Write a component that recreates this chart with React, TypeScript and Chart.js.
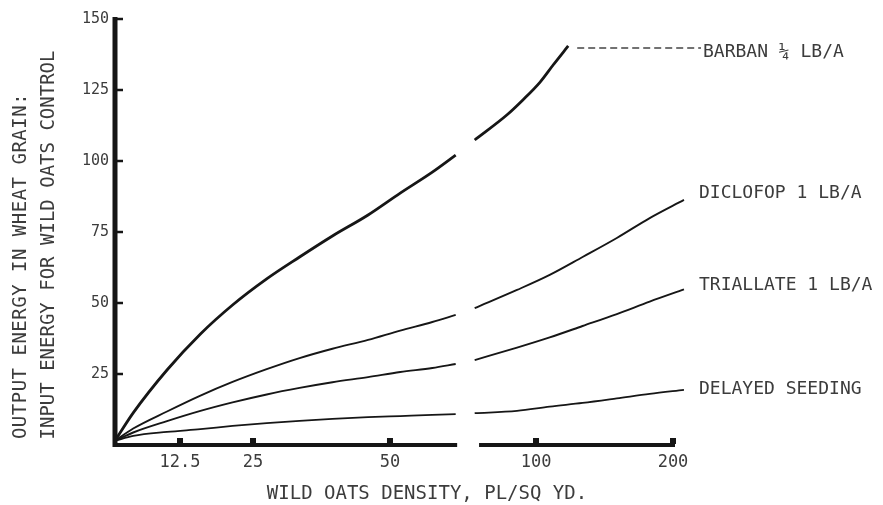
import React, { useEffect, useRef } from 'react';
import { Chart, LinearScale, registerables } from 'chart.js';

// ---- axis definitions ----
const X_TICKS = [12.5, 25, 50, 100, 200];
const X_KNOTS = [0, 12.5, 25, 50, 100, 200];
const X_KNOT_FRAC = [0, 0.1165, 0.2473, 0.4928, 0.7545, 1];
const Y_TICKS = [0, 25, 50, 75, 100, 125, 150];
const AXIS_BREAK = [73, 80.5];

// ---- data (density in plants / sq yd; ratio output:input energy) ----
const DENSITY_LOW = [0, 3.5, 10, 16, 21.5, 27.5, 33.5, 39.5, 46, 53.5, 64.5, 72.5];
const DENSITY_HIGH = [79, 93.5, 110, 134, 159, 183, 208];
const BARBAN_DENSITY_HIGH = [79, 90, 95.5, 103, 112.5, 123.5];

const BARBAN_LOW = [1.5, 11.3, 26.4, 39.1, 49.3, 58.5, 66.2, 73.6, 81.0, 88.7, 96.1, 102.1];
const BARBAN_HIGH = [107.4, 116.2, 121.5, 127.8, 133.8, 140.5];
const DICLOFOP_LOW = [1.5, 5.8, 11.8, 17.4, 22.2, 26.7, 30.6, 33.9, 37.0, 40.3, 43.3, 45.8];
const DICLOFOP_HIGH = [48.2, 54.6, 59.9, 66.2, 72.9, 79.9, 86.3];
const TRIALLATE_LOW = [1.5, 4.4, 8.4, 12.0, 15.0, 17.8, 20.1, 22.1, 23.9, 25.7, 27.1, 28.5];
const TRIALLATE_HIGH = [29.9, 34.3, 37.9, 41.9, 46.1, 50.5, 54.8];
const DELAYED_LOW = [1.5, 3.2, 4.6, 5.6, 6.7, 7.7, 8.5, 9.2, 9.8, 10.2, 10.6, 10.9];
const DELAYED_HIGH = [11.2, 12.0, 13.5, 14.8, 16.4, 18.0, 19.4];

const SERIES_NAMES = ['BARBAN \u00BC LB/A', 'DICLOFOP 1 LB/A', 'TRIALLATE 1 LB/A', 'DELAYED SEEDING'];

const Y_TITLE = ['OUTPUT ENERGY IN WHEAT GRAIN:', 'INPUT ENERGY FOR WILD OATS CONTROL'];
const X_TITLE = 'WILD OATS DENSITY, PL/SQ YD.';

const INK = '#161616';
const TEXT = '#3c3c3c';
const MONO = '"DejaVu Sans Mono", "Liberation Mono", monospace';

function toFrac(v: number): number {
  const n = X_KNOTS.length;
  for (let i = 1; i < n; i++) {
    if (v <= X_KNOTS[i] || i === n - 1) {
      const a = X_KNOTS[i - 1], b = X_KNOTS[i];
      const fa = X_KNOT_FRAC[i - 1], fb = X_KNOT_FRAC[i];
      return fa + ((v - a) / (b - a)) * (fb - fa);
    }
  }
  return 1;
}
function fromFrac(f: number): number {
  const n = X_KNOTS.length;
  for (let i = 1; i < n; i++) {
    if (f <= X_KNOT_FRAC[i] || i === n - 1) {
      const a = X_KNOTS[i - 1], b = X_KNOTS[i];
      const fa = X_KNOT_FRAC[i - 1], fb = X_KNOT_FRAC[i];
      return a + ((f - fa) / (fb - fa)) * (b - a);
    }
  }
  return X_KNOTS[n - 1];
}

class BrokenScale extends LinearScale {
  getPixelForValue(value: number) {
    return (this as any).getPixelForDecimal(toFrac(value));
  }
  getValueForPixel(pixel: number) {
    return fromFrac((this as any).getDecimalForPixel(pixel));
  }
}
(BrokenScale as any).id = 'broken';
(BrokenScale as any).defaults = (LinearScale as any).defaults;

Chart.register(...registerables, BrokenScale as any);

const pts = (xs: number[], ys: number[]) => xs.map((x, i) => ({ x, y: ys[i] }));

const LABEL_DY = [6, -7, -4, -1];

const decorPlugin = {
  id: 'decor',
  afterDatasetsDraw(chart: any) {
    const { ctx } = chart;
    const x = chart.scales.x;
    const y = chart.scales.y;
    const x0 = x.getPixelForValue(0);
    const yb = y.getPixelForValue(0);
    const yt = y.getPixelForValue(150);
    ctx.save();
    ctx.strokeStyle = INK;
    ctx.fillStyle = INK;
    // y axis
    ctx.lineWidth = 5;
    ctx.beginPath();
    ctx.moveTo(x0, yt - 2);
    ctx.lineTo(x0, yb + 2);
    ctx.stroke();
    ctx.lineWidth = 2.5;
    Y_TICKS.slice(1).forEach((v) => {
      const py = y.getPixelForValue(v);
      ctx.beginPath();
      ctx.moveTo(x0, py);
      ctx.lineTo(x0 + 8, py);
      ctx.stroke();
    });
    // x axis (broken)
    ctx.lineWidth = 4;
    ctx.beginPath();
    ctx.moveTo(x0 - 2, yb);
    ctx.lineTo(x.getPixelForValue(AXIS_BREAK[0]), yb);
    ctx.moveTo(x.getPixelForValue(AXIS_BREAK[1]), yb);
    ctx.lineTo(x.getPixelForValue(200) + 2, yb);
    ctx.stroke();
    X_TICKS.forEach((v) => {
      const px = x.getPixelForValue(v);
      ctx.fillRect(px - 3, yb - 7, 6, 6);
    });

    // series labels
    ctx.font = `18px ${MONO}`;
    ctx.fillStyle = TEXT;
    ctx.textBaseline = 'middle';
    ctx.textAlign = 'left';
    for (let s = 0; s < 4; s++) {
      const meta = chart.getDatasetMeta(s * 2 + 1);
      const last = meta.data[meta.data.length - 1];
      const ly = last.y + LABEL_DY[s];
      if (s === 0) {
        ctx.save();
        ctx.strokeStyle = '#444';
        ctx.lineWidth = 1.3;
        ctx.setLineDash([7, 4]);
        ctx.beginPath();
        ctx.moveTo(last.x + 9, last.y + 2);
        ctx.lineTo(701, last.y + 2);
        ctx.stroke();
        ctx.restore();
        ctx.fillText(SERIES_NAMES[s], 703, ly);
      } else {
        ctx.fillText(SERIES_NAMES[s], 699, ly);
      }
    }

    // axis titles
    ctx.font = `19px ${MONO}`;
    ctx.textAlign = 'center';
    ctx.fillText(X_TITLE, 427, 494);
    ctx.save();
    ctx.translate(21, 266);
    ctx.rotate(-Math.PI / 2);
    (ctx as any).letterSpacing = '0.5px';
    ctx.fillText(Y_TITLE[0], 0, 0);
    ctx.restore();
    ctx.save();
    ctx.translate(49, 245);
    ctx.rotate(-Math.PI / 2);
    ctx.fillText(Y_TITLE[1], 0, 0);
    ctx.restore();
    ctx.restore();
  },
};

export default function App() {
  const ref = useRef<HTMLCanvasElement | null>(null);
  useEffect(() => {
    if (!ref.current) return;
    const mk = (lo: number[], hi: number[], hx: number[], w: number) => [
      { data: pts(DENSITY_LOW, lo), borderWidth: w },
      { data: pts(hx, hi), borderWidth: w },
    ];
    const datasets = [
      ...mk(BARBAN_LOW, BARBAN_HIGH, BARBAN_DENSITY_HIGH, 2.8),
      ...mk(DICLOFOP_LOW, DICLOFOP_HIGH, DENSITY_HIGH, 1.9),
      ...mk(TRIALLATE_LOW, TRIALLATE_HIGH, DENSITY_HIGH, 1.9),
      ...mk(DELAYED_LOW, DELAYED_HIGH, DENSITY_HIGH, 1.8),
    ].map((d) => ({
      ...d,
      borderColor: INK,
      pointRadius: 0,
      fill: false,
      cubicInterpolationMode: 'monotone' as const,
      clip: false as any,
    }));
    const chart = new Chart(ref.current, {
      type: 'line',
      data: { datasets },
      options: {
        responsive: false,
        animation: false,
        events: [],
        layout: { padding: { left: 75, right: 210, top: 19, bottom: 0 } },
        plugins: { legend: { display: false }, tooltip: { enabled: false } },
        scales: {
          x: {
            type: 'broken' as any,
            min: 0,
            max: 200,
            grid: { display: false, drawTicks: false },
            border: { display: false },
            afterBuildTicks: (s: any) => {
              s.ticks = X_TICKS.map((v) => ({ value: v }));
            },
            afterFit: (s: any) => {
              s.height = 60;
            },
            ticks: {
              autoSkip: false,
              maxRotation: 0,
              padding: 7,
              color: TEXT,
              font: { family: MONO, size: 17 },
              callback: (v: any) => String(v),
            },
          },
          y: {
            type: 'linear',
            min: 0,
            max: 150,
            grid: { display: false, drawTicks: false },
            border: { display: false },
            afterBuildTicks: (s: any) => {
              s.ticks = Y_TICKS.slice(1).map((v) => ({ value: v }));
            },
            afterFit: (s: any) => {
              s.width = 40;
            },
            ticks: {
              padding: 6,
              color: TEXT,
              font: { family: MONO, size: 15 },
              callback: (v: any) => String(v),
            },
          },
        },
      },
      plugins: [decorPlugin],
    });
    return () => chart.destroy();
  }, []);
  return (
    <div style={{ position: 'absolute', left: 0, top: 0, width: 883, height: 505, background: '#fff' }}>
      <canvas ref={ref} width={883} height={505} style={{ display: 'block' }} />
    </div>
  );
}
